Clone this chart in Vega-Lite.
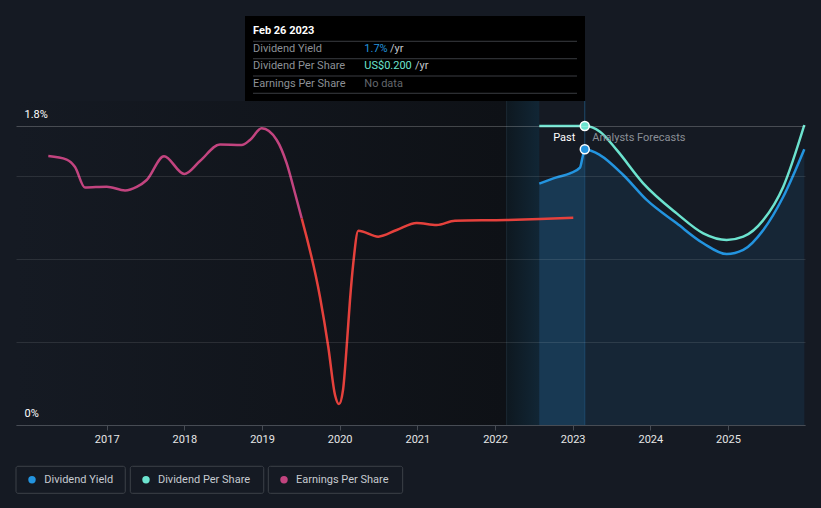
{
  "$schema": "https://vega.github.io/schema/vega-lite/v6.json",
  "width": 789,
  "height": 299,
  "autosize": "none",
  "padding": {"left": 16, "top": 126, "right": 16, "bottom": 83},
  "background": "#151a23",
  "config": {"view": {"stroke": null}, "font": "Roboto", "text": {"font": "Roboto"}},
  "datasets": {
    "lines": [
      {"series": "Earnings Per Share", "year": 2016.248, "value": 1.619},
      {"series": "Earnings Per Share", "year": 2016.485, "value": 1.598},
      {"series": "Earnings Per Share", "year": 2016.592, "value": 1.553},
      {"series": "Earnings Per Share", "year": 2016.72, "value": 1.43},
      {"series": "Earnings Per Share", "year": 2017.0, "value": 1.435},
      {"series": "Earnings Per Share", "year": 2017.236, "value": 1.412},
      {"series": "Earnings Per Share", "year": 2017.386, "value": 1.433},
      {"series": "Earnings Per Share", "year": 2017.515, "value": 1.475},
      {"series": "Earnings Per Share", "year": 2017.738, "value": 1.618},
      {"series": "Earnings Per Share", "year": 2017.999, "value": 1.511},
      {"series": "Earnings Per Share", "year": 2018.201, "value": 1.589},
      {"series": "Earnings Per Share", "year": 2018.459, "value": 1.689},
      {"series": "Earnings Per Share", "year": 2018.738, "value": 1.686},
      {"series": "Earnings Per Share", "year": 2018.845, "value": 1.716},
      {"series": "Earnings Per Share", "year": 2018.996, "value": 1.786},
      {"series": "Earnings Per Share", "year": 2019.189, "value": 1.716},
      {"series": "Earnings Per Share", "year": 2019.318, "value": 1.575},
      {"series": "Earnings Per Share", "year": 2019.425, "value": 1.395},
      {"series": "Earnings Per Share", "year": 2019.511, "value": 1.244},
      {"series": "Earnings Per Share (falling)", "year": 2019.511, "value": 1.244},
      {"series": "Earnings Per Share (falling)", "year": 2019.746, "value": 0.772},
      {"series": "Earnings Per Share (falling)", "year": 2019.853, "value": 0.471},
      {"series": "Earnings Per Share (falling)", "year": 2019.94, "value": 0.181},
      {"series": "Earnings Per Share (falling)", "year": 2019.991, "value": 0.126},
      {"series": "Earnings Per Share (falling)", "year": 2020.043, "value": 0.211},
      {"series": "Earnings Per Share (falling)", "year": 2020.09, "value": 0.471},
      {"series": "Earnings Per Share (falling)", "year": 2020.133, "value": 0.753},
      {"series": "Earnings Per Share (falling)", "year": 2020.175, "value": 0.973},
      {"series": "Earnings Per Share (falling)", "year": 2020.24, "value": 1.17},
      {"series": "Earnings Per Share (falling)", "year": 2020.497, "value": 1.134},
      {"series": "Earnings Per Share (falling)", "year": 2020.734, "value": 1.174},
      {"series": "Earnings Per Share (falling)", "year": 2020.992, "value": 1.216},
      {"series": "Earnings Per Share (falling)", "year": 2021.249, "value": 1.204},
      {"series": "Earnings Per Share (falling)", "year": 2021.485, "value": 1.23},
      {"series": "Earnings Per Share (falling)", "year": 2022.15, "value": 1.234},
      {"series": "Earnings Per Share (falling)", "year": 2022.579, "value": 1.24},
      {"series": "Earnings Per Share (falling)", "year": 2023.008, "value": 1.248},
      {"series": "Dividend Yield", "year": 2022.57, "value": 1.453},
      {"series": "Dividend Yield", "year": 2022.794, "value": 1.491},
      {"series": "Dividend Yield", "year": 2022.966, "value": 1.515},
      {"series": "Dividend Yield", "year": 2023.094, "value": 1.549},
      {"series": "Dividend Yield", "year": 2023.129, "value": 1.615},
      {"series": "Dividend Yield", "year": 2023.156, "value": 1.66},
      {"series": "Dividend Yield", "year": 2023.352, "value": 1.625},
      {"series": "Dividend Yield", "year": 2023.652, "value": 1.505},
      {"series": "Dividend Yield", "year": 2023.953, "value": 1.355},
      {"series": "Dividend Yield", "year": 2024.34, "value": 1.214},
      {"series": "Dividend Yield", "year": 2024.682, "value": 1.094},
      {"series": "Dividend Yield", "year": 2024.983, "value": 1.029},
      {"series": "Dividend Yield", "year": 2025.197, "value": 1.054},
      {"series": "Dividend Yield", "year": 2025.455, "value": 1.174},
      {"series": "Dividend Yield", "year": 2025.712, "value": 1.374},
      {"series": "Dividend Yield", "year": 2025.983, "value": 1.66},
      {"series": "Dividend Per Share", "year": 2022.57, "value": 1.8},
      {"series": "Dividend Per Share", "year": 2023.156, "value": 1.8},
      {"series": "Dividend Per Share", "year": 2023.352, "value": 1.766},
      {"series": "Dividend Per Share", "year": 2023.567, "value": 1.656},
      {"series": "Dividend Per Share", "year": 2023.909, "value": 1.455},
      {"series": "Dividend Per Share", "year": 2024.34, "value": 1.274},
      {"series": "Dividend Per Share", "year": 2024.682, "value": 1.154},
      {"series": "Dividend Per Share", "year": 2024.983, "value": 1.114},
      {"series": "Dividend Per Share", "year": 2025.197, "value": 1.134},
      {"series": "Dividend Per Share", "year": 2025.455, "value": 1.234},
      {"series": "Dividend Per Share", "year": 2025.712, "value": 1.435},
      {"series": "Dividend Per Share", "year": 2025.983, "value": 1.806}
    ]
  },
  "encoding": {
    "x": {
      "field": "year",
      "type": "quantitative",
      "scale": {"domain": [2015.832, 2025.992], "nice": false, "zero": false},
      "axis": {
        "values": [2017, 2018, 2019, 2020, 2021, 2022, 2023, 2024, 2025],
        "format": "d",
        "title": null,
        "grid": false,
        "domainColor": "#474c54",
        "tickColor": "#474c54",
        "tickSize": 5,
        "labelColor": "#e6e6e6",
        "labelFontSize": 11,
        "labelPadding": 3,
        "labelFlush": false,
        "zindex": 1
      }
    },
    "y": {
      "field": "value",
      "type": "quantitative",
      "scale": {"domain": [0, 1.8], "nice": false, "zero": false},
      "axis": {
        "values": [0, 0.5, 1, 1.5, 1.8],
        "labelExpr": "datum.value == 0 ? '0%' : (datum.value == 1.8 ? '1.8%' : '')",
        "title": null,
        "domain": false,
        "ticks": false,
        "tickSize": 0,
        "labelAlign": "left",
        "labelBaseline": "middle",
        "labelPadding": -8,
        "labelOffset": -12,
        "labelFlush": false,
        "labelOverlap": false,
        "labelColor": "#ffffff",
        "labelFontSize": 11,
        "gridColor": "#ffffff",
        "gridOpacity": {"condition": {"test": "datum.value == 1.8", "value": 0.22}, "value": 0.1},
        "zindex": 1
      }
    }
  },
  "layer": [
    {
      "data": {"values": [{"year": 2015.832, "year2": 2022.15, "value": 0, "value2": 1.951}]},
      "mark": {"type": "rect", "fill": {"gradient": "linear", "x1": 0, "x2": 1, "y1": 0, "y2": 0, "stops": [{"offset": 0, "color": "#151a23"}, {"offset": 1, "color": "#0e1116"}]}},
      "encoding": {"x2": {"field": "year2"}, "y2": {"field": "value2"}}
    },
    {
      "data": {"values": [{"year": 2022.15, "year2": 2022.57, "value": 0, "value2": 1.951}]},
      "mark": {"type": "rect", "fill": {"gradient": "linear", "x1": 0, "x2": 1, "y1": 0, "y2": 0, "stops": [{"offset": 0, "color": "#0e1820"}, {"offset": 1, "color": "#112635"}]}},
      "encoding": {"x2": {"field": "year2"}, "y2": {"field": "value2"}}
    },
    {
      "data": {"name": "lines"},
      "transform": [{"filter": "datum.series == 'Dividend Yield' && datum.year <= 2023.16"}],
      "mark": {"type": "area", "interpolate": "monotone", "color": "#2394df", "opacity": 0.26}
    },
    {
      "data": {"name": "lines"},
      "transform": [{"filter": "datum.series == 'Dividend Yield' && datum.year >= 2023.15"}],
      "mark": {"type": "area", "interpolate": "monotone", "color": "#2394df", "opacity": 0.1}
    },
    {
      "data": {"values": [{"year": 2022.15, "value": 0, "value2": 1.951}]},
      "mark": {"type": "rule", "color": "#1b2833", "strokeWidth": 1},
      "encoding": {"y2": {"field": "value2"}}
    },
    {
      "data": {"values": [{"year": 2023.156, "value": 0, "value2": 1.951}]},
      "mark": {"type": "rule", "color": "#1e4a6b", "strokeWidth": 1},
      "encoding": {"y2": {"field": "value2"}}
    },
    {
      "data": {"name": "lines"},
      "mark": {"type": "line", "interpolate": "monotone", "strokeWidth": 2.5},
      "encoding": {
        "color": {
          "field": "series",
          "type": "nominal",
          "scale": {"domain": ["Dividend Yield", "Dividend Per Share", "Earnings Per Share", "Earnings Per Share (falling)"], "range": ["#2394df", "#6ce3cf", "#c2447f", "#e5413c"]},
          "legend": null
        }
      }
    },
    {
      "data": {"values": [{"series": "Dividend Yield", "year": 2023.156, "value": 1.66}, {"series": "Dividend Per Share", "year": 2023.156, "value": 1.8}]},
      "mark": {"type": "point", "filled": true, "size": 80, "stroke": "#ffffff", "strokeWidth": 1.5, "opacity": 1},
      "encoding": {"color": {"field": "series", "type": "nominal", "legend": null}}
    },
    {
      "data": {"values": [{"year": 2023.034, "value": 1.726, "label": "Past"}]},
      "mark": {"type": "text", "align": "right", "baseline": "middle", "fontSize": 11, "color": "#ffffff"},
      "encoding": {"text": {"field": "label"}}
    },
    {
      "data": {"values": [{"year": 2023.253, "value": 1.726, "label": "Analysts Forecasts"}]},
      "mark": {"type": "text", "align": "left", "baseline": "middle", "fontSize": 11, "color": "#8a8f96"},
      "encoding": {"text": {"field": "label"}}
    },
    {
      "data": {"values": [{"year": 2018.781, "year2": 2023.159, "value": 1.951, "value2": 2.462}]},
      "mark": {"type": "rect", "color": "#000000"},
      "encoding": {"x2": {"field": "year2"}, "y2": {"field": "value2"}}
    },
    {
      "data": {"values": [
        {"year": 2018.884, "year2": 2023.056, "value": 2.31},
        {"year": 2018.884, "year2": 2023.056, "value": 2.205},
        {"year": 2018.884, "year2": 2023.056, "value": 2.101},
        {"year": 2018.884, "year2": 2023.056, "value": 1.997}
      ]},
      "mark": {"type": "rule", "color": "#3a3d42", "strokeWidth": 1},
      "encoding": {"x2": {"field": "year2"}}
    },
    {
      "data": {"values": [{"year": 2018.884, "value": 2.372, "label": "Feb 26 2023"}]},
      "mark": {"type": "text", "align": "left", "baseline": "middle", "fontSize": 11, "fontWeight": "bold", "color": "#ffffff"},
      "encoding": {"text": {"field": "label"}}
    },
    {
      "data": {"values": [
        {"year": 2018.884, "value": 2.262, "label": "Dividend Yield"},
        {"year": 2018.884, "value": 2.161, "label": "Dividend Per Share"},
        {"year": 2018.884, "value": 2.053, "label": "Earnings Per Share"}
      ]},
      "mark": {"type": "text", "align": "left", "baseline": "middle", "fontSize": 11, "color": "#8c9096"},
      "encoding": {"text": {"field": "label"}}
    },
    {
      "data": {"values": [{"year": 2020.317, "value": 2.262, "label": "1.7%"}]},
      "mark": {"type": "text", "align": "left", "baseline": "middle", "fontSize": 11, "color": "#2394df"},
      "encoding": {"text": {"field": "label"}}
    },
    {
      "data": {"values": [{"year": 2020.317, "value": 2.161, "label": "US$0.200"}]},
      "mark": {"type": "text", "align": "left", "baseline": "middle", "fontSize": 11, "color": "#6ce3cf"},
      "encoding": {"text": {"field": "label"}}
    },
    {
      "data": {"values": [
        {"year": 2020.648, "value": 2.262, "label": "/yr"},
        {"year": 2020.97, "value": 2.161, "label": "/yr"}
      ]},
      "mark": {"type": "text", "align": "left", "baseline": "middle", "fontSize": 11, "color": "#c4c7cc"},
      "encoding": {"text": {"field": "label"}}
    },
    {
      "data": {"values": [{"year": 2020.317, "value": 2.053, "label": "No data"}]},
      "mark": {"type": "text", "align": "left", "baseline": "middle", "fontSize": 11, "color": "#63676d"},
      "encoding": {"text": {"field": "label"}}
    },
    {
      "data": {"values": [
        {"series": "Dividend Yield", "year": 2015.832, "year2": 2017.239, "value": -0.2486, "value2": -0.4112},
        {"series": "Dividend Per Share", "year": 2017.304, "year2": 2019.022, "value": -0.2486, "value2": -0.4112},
        {"series": "Earnings Per Share", "year": 2019.081, "year2": 2020.811, "value": -0.2486, "value2": -0.4112}
      ]},
      "mark": {"type": "rect", "fill": "#151a23", "fillOpacity": 0, "stroke": "#3c4148", "strokeWidth": 1, "cornerRadius": 2},
      "encoding": {"x2": {"field": "year2"}, "y2": {"field": "value2"}}
    },
    {
      "data": {"values": [
        {"series": "Dividend Yield", "year": 2016.038, "value": -0.33},
        {"series": "Dividend Per Share", "year": 2017.506, "value": -0.33},
        {"series": "Earnings Per Share", "year": 2019.283, "value": -0.33}
      ]},
      "mark": {"type": "point", "filled": true, "size": 55, "opacity": 1},
      "encoding": {"color": {"field": "series", "type": "nominal", "legend": null}}
    },
    {
      "data": {"values": [
        {"series": "Dividend Yield", "year": 2016.196, "value": -0.33},
        {"series": "Dividend Per Share", "year": 2017.66, "value": -0.33},
        {"series": "Earnings Per Share", "year": 2019.437, "value": -0.33}
      ]},
      "mark": {"type": "text", "align": "left", "baseline": "middle", "fontSize": 11, "color": "#c6cad0"},
      "encoding": {"text": {"field": "series"}}
    }
  ]
}
